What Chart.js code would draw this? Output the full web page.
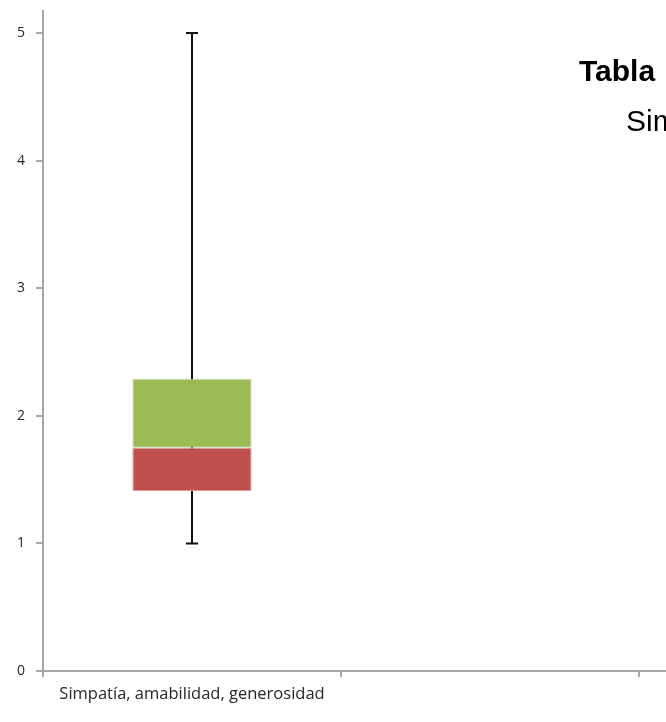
<!DOCTYPE html>
<html>
<head>
<meta charset="utf-8">
<script src="https://cdn.jsdelivr.net/npm/chart.js@4"></script>
<style>
    html, body { margin: 0; padding: 0; background: #ffffff; overflow: hidden; width: 666px; height: 722px; }
    #wrap { position: relative; width: 666px; height: 722px; overflow: hidden; }
    #chart { position: absolute; left: 0; top: -8px; max-width: none; }
    .note { position: absolute; font-family: "Liberation Sans", Arial, sans-serif; font-size: 30px; color: #000; white-space: nowrap; line-height: 1; }
</style>
</head>
<body>
<div id="wrap">
    <canvas id="chart" width="937" height="730"></canvas>
    <div class="note" style="left: 579px; top: 56px; font-weight: bold;">Tabla</div>
    <div class="note" style="left: 626px; top: 106px;">Simpatía</div>
</div>
<script>
// Box plot built from stacked pieces, as in the original spreadsheet chart
const categories = ["Simpatía, amabilidad, generosidad", "", ""]
const q1_values = [1.41, null, null]
const median_values = [1.75, null, null]
const q3_values = [2.29, null, null]
const min_values = [1, null, null]
const max_values = [5, null, null]
const y_ticks = [0, 1, 2, 3, 4, 5]

const axis_color = "#a6a6a6"

// Whiskers: vertical line from min to max with caps, drawn under the boxes
const whisker_plugin = {
    id: "whiskers",
    beforeDatasetsDraw(chart)
    {
        const ctx = chart.ctx
        const x_scale = chart.scales.x
        const y_scale = chart.scales.y
        ctx.save()
        ctx.strokeStyle = "#111111"
        ctx.lineWidth = 2
        categories.forEach((category, i) => {
            if (min_values[i] === null) return
            const x = x_scale.getPixelForValue(i)
            const y_min = y_scale.getPixelForValue(min_values[i])
            const y_max = y_scale.getPixelForValue(max_values[i])
            ctx.beginPath()
            ctx.moveTo(x, y_min)
            ctx.lineTo(x, y_max)
            ctx.moveTo(x - 6, y_min)
            ctx.lineTo(x + 6, y_min)
            ctx.moveTo(x - 6, y_max)
            ctx.lineTo(x + 6, y_max)
            ctx.stroke()
        })
        ctx.restore()
    }
}

new Chart(document.getElementById("chart").getContext("2d"), {
    type: "bar",
    data: {
        labels: categories,
        datasets: [
            {
                label: "Q1 - Mediana",
                data: q1_values.map((v, i) => v === null ? null : [v, median_values[i]]),
                backgroundColor: "#c0504d",
                borderColor: "#d99694",
                borderWidth: 1,
                borderSkipped: false,
            },
            {
                label: "Mediana - Q3",
                data: median_values.map((v, i) => v === null ? null : [v, q3_values[i]]),
                backgroundColor: "#9bbb59",
                borderColor: "#c3d69b",
                borderWidth: 1,
                borderSkipped: false,
            },
        ]
    },
    options: {
        responsive: false,
        animation: false,
        devicePixelRatio: 1,
        layout: { padding: { top: 2, right: 0, left: 0, bottom: 0 } },
        plugins: {
            legend: { display: false },
            tooltip: { enabled: false },
        },
        datasets: {
            bar: { grouped: false, categoryPercentage: 1.0, barPercentage: 0.4 }
        },
        scales: {
            x: {
                grid: { display: true, drawOnChartArea: false, offset: true, color: axis_color, lineWidth: 2, tickLength: 6 },
                border: { color: axis_color, width: 2 },
                ticks: {
                    padding: 7,
                    color: "#262626",
                    font: { family: "'Open Sans', 'Noto Sans', sans-serif", size: 16.5 },
                    maxRotation: 0,
                    autoSkip: false,
                },
                afterFit: scale => { scale.height = 51 },
            },
            y: {
                min: 0,
                max: 5.17,
                afterBuildTicks: scale => { scale.ticks = y_ticks.map(v => ({ value: v })) },
                grid: { display: true, drawOnChartArea: false, color: axis_color, lineWidth: 2, tickLength: 7 },
                border: { color: axis_color, width: 2 },
                ticks: {
                    padding: 11,
                    color: "#262626",
                    font: { family: "'Open Sans', 'Noto Sans', sans-serif", size: 14 },
                },
                afterFit: scale => { scale.width = 43 },
            }
        }
    },
    plugins: [whisker_plugin]
})
</script>
</body>
</html>
